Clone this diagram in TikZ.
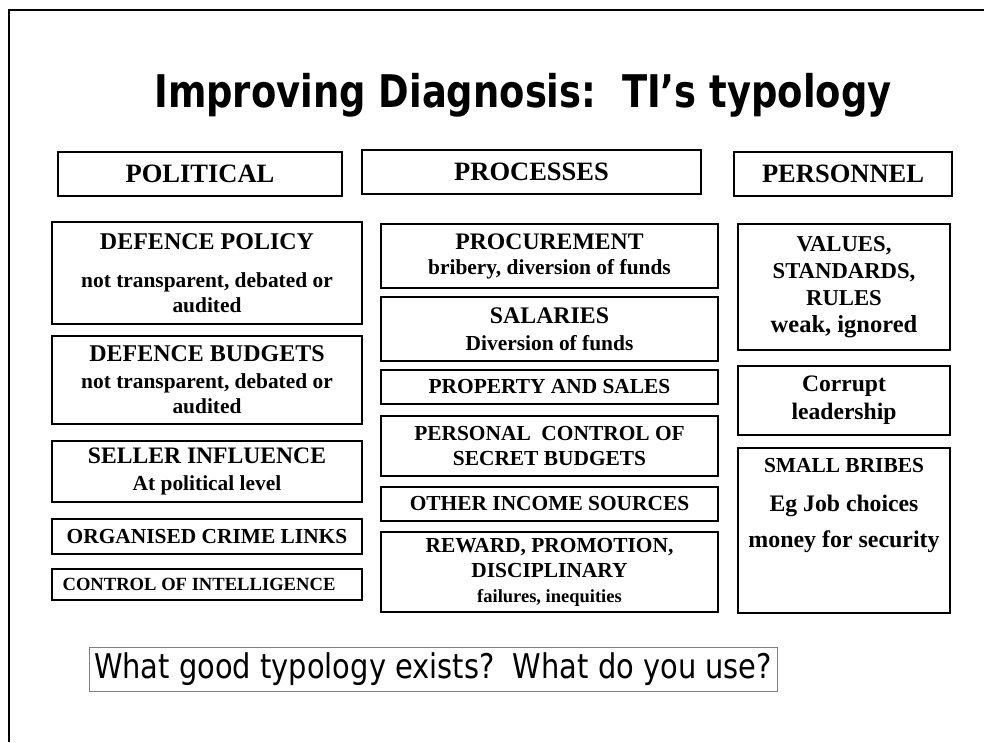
\documentclass[tikz,border=0pt]{standalone}
\usepackage{fontspec}
\setmainfont{Liberation Serif}
\newfontfamily\titlefont[FakeStretch=0.82]{DejaVu Sans}
\newfontfamily\askfont[FakeStretch=0.85]{DejaVu Sans}
\usetikzlibrary{positioning}
\newcommand{\fsz}[2]{\fontsize{#1}{#2}\selectfont}

\begin{document}
\begin{tikzpicture}[x=1pt, y=-1pt, node distance=12pt,
  box/.style={rectangle, draw, line width=1.5pt, align=center, inner sep=0pt, outer sep=0pt, font=\bfseries\fsz{21.4}{25}},
  head/.style={box, minimum height=44pt, font=\bfseries\fsz{26.5}{30}},
  polbox/.style={box, minimum width=310pt},
  procbox/.style={box, minimum width=337pt},
  persbox/.style={box, minimum width=212pt}]

  \useasboundingbox (0,0) rectangle (984,742);
  \draw[line width=1.5pt] (9,742) -- (9,10) -- (984,10);

  \node[anchor=base] (title) at (523,107) {\titlefont\bfseries\fsz{45}{50}Improving Diagnosis:\ \ TI’s typology};

  % column heads
  \node[head, minimum width=284pt] (pol) at (200,174) {POLITICAL};
  \node[head, minimum width=339pt] (proc) at (531.5,172) {PROCESSES};
  \node[head, minimum width=218pt] (pers) at (843,174) {PERSONNEL};

  % political
  \node[polbox, minimum height=102pt, anchor=north] (policy) at (207,222)
    {{\fsz{24}{27}DEFENCE POLICY}\\[13pt]not transparent, debated or\\audited};
  \node[polbox, minimum height=88pt, below=12pt of policy] (budget)
    {{\fsz{24}{27}DEFENCE BUDGETS}\\[2pt]not transparent, debated or\\audited};
  \node[polbox, minimum height=61pt, below=17pt of budget] (seller)
    {{\fsz{23.6}{27}SELLER INFLUENCE}\\[2pt]At political level};
  \node[polbox, minimum height=35pt, below=17pt of seller] (crime) {ORGANISED CRIME LINKS};
  \node[polbox, minimum height=31pt, below=15pt of crime, font=\bfseries\fsz{18.6}{22}] (intel) {CONTROL OF INTELLIGENCE\hspace*{16pt}};

  % processes
  \node[procbox, minimum height=64pt, anchor=north] (buy) at (549.5,224)
    {{\fsz{23.7}{27}PROCUREMENT}\\bribery, diversion of funds};
  \node[procbox, minimum height=64pt, below=9pt of buy] (pay)
    {{\fsz{23.8}{27}SALARIES}\\[2pt]Diversion of funds};
  \node[procbox, minimum height=34pt, below=9pt of pay] (sales) {PROPERTY AND SALES};
  \node[procbox, minimum height=60pt, below=12pt of sales] (secret) {PERSONAL\ \ CONTROL OF\\SECRET BUDGETS};
  \node[procbox, minimum height=34pt, below=11pt of secret] (income) {OTHER INCOME SOURCES};
  \node[procbox, minimum height=80pt, below=11pt of income] (reward)
    {REWARD, PROMOTION,\\DISCIPLINARY\\{\fsz{18.5}{22}failures, inequities}};

  % personnel
  \node[persbox, minimum height=126pt, anchor=north, font=\bfseries\fsz{22.7}{27}] (rules) at (844,224)
    {VALUES,\\STANDARDS,\\RULES\\{\fsz{24.5}{27}weak, ignored}};
  \node[persbox, minimum height=69pt, below=16pt of rules, font=\bfseries\fsz{23.6}{28}] (lead) {Corrupt\\leadership};
  \node[persbox, minimum height=165pt, below=13pt of lead] (bribes)
    {SMALL BRIBES\\[14pt]{\fsz{23.7}{28}Eg Job choices}\\[11pt]{\fsz{23.9}{28}money for security}\\[30pt]\mbox{}};

  \node[draw=gray, line width=1pt, minimum width=688pt, minimum height=44pt, inner sep=0pt, font=\askfont\fsz{34}{38}] (ask) at (433,669)
    {What good typology exists?\ \ What do you use?};
\end{tikzpicture}
\end{document}
